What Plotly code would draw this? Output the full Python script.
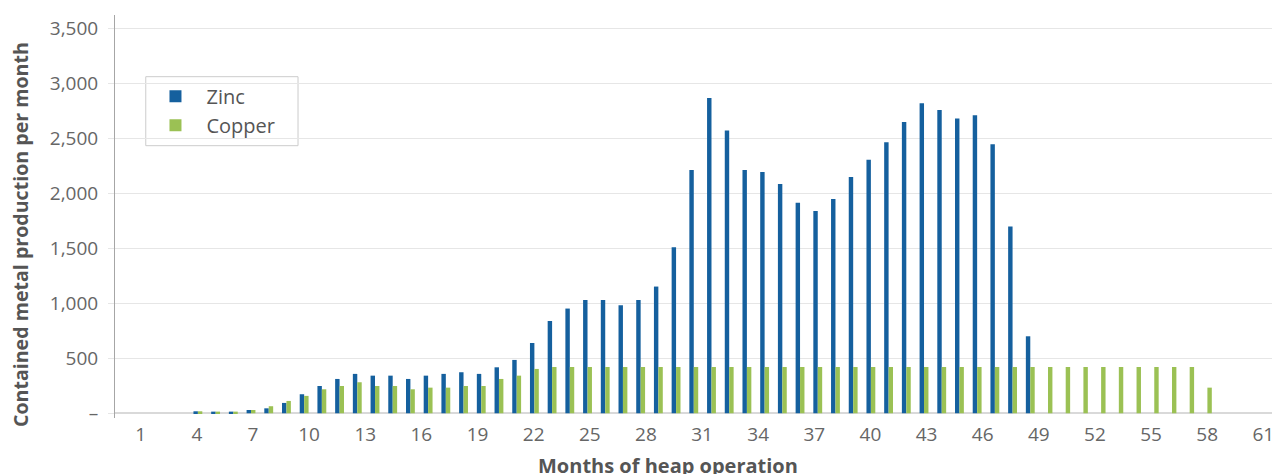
import plotly.graph_objects as go

# ---- data ----
months = list(range(1, 62))

zinc = [0, 0, 0, 18, 15, 15, 30, 45, 94, 173,
        248, 312, 358, 342, 342, 312, 342, 358, 373, 358,
        418, 485, 639, 839, 952, 1030, 1030, 982, 1030, 1152,
        1509, 2212, 2867, 2570, 2212, 2194, 2085, 1915, 1839, 1948,
        2148, 2306, 2464, 2648, 2818, 2758, 2679, 2709, 2445, 1697,
        700]

copper = [0, 0, 0, 18, 15, 15, 30, 64, 112, 158,
          218, 248, 282, 248, 248, 218, 233, 233, 248, 248,
          312, 342, 403, 421, 421, 421, 421, 421, 421, 421,
          421, 421, 421, 421, 421, 421, 421, 421, 421, 421,
          421, 421, 421, 421, 421, 421, 421, 421, 421, 421,
          421, 421, 421, 421, 421, 421, 421, 421, 421, 421,
          233]

x_tick_values = list(range(1, 62, 3))
x_tick_labels = [str(v) for v in x_tick_values]

y_tick_values = [0, 500, 1000, 1500, 2000, 2500, 3000, 3500]
y_tick_labels = ["–", "500", "1,000", "1,500", "2,000", "2,500", "3,000", "3,500"]

series_names = ["Zinc", "Copper"]
series_colors = ["#15609E", "#9BC154"]

FONT = "Open Sans"
TXT = "#666666"
TITLE = "#555555"

fig = go.Figure()
fig.add_trace(go.Bar(x=months[:len(zinc)], y=zinc, name=series_names[0],
                     marker=dict(color=series_colors[0], line=dict(width=0))))
fig.add_trace(go.Bar(x=months[:len(copper)], y=copper, name=series_names[1],
                     marker=dict(color=series_colors[1], line=dict(width=0))))
# helper (no visible marks) so the month-label axis is drawn
fig.add_trace(go.Scatter(x=x_tick_values, y=[None] * len(x_tick_values), xaxis="x2",
                         mode="markers", showlegend=False, hoverinfo="skip"))

fig.update_layout(
    width=1272, height=466,
    margin=dict(l=107, r=0, t=7, b=56, pad=0),
    paper_bgcolor="white", plot_bgcolor="white",
    barmode="group", bargap=0.5, bargroupgap=0,
    font=dict(family=FONT, color=TXT, size=19),
    showlegend=True,
    legend=dict(
        x=0.0253, y=0.847, xanchor="left", yanchor="top",
        bgcolor="rgba(0,0,0,0)", borderwidth=0,
        font=dict(family=FONT, size=20, color=TITLE),
        itemwidth=52, traceorder="normal",
    ),
    shapes=[
        # legend frame
        dict(type="rect", xref="paper", yref="paper",
             x0=0.0264, x1=0.1571, y0=0.6757, y1=0.8469,
             line=dict(color="#cccccc", width=1), fillcolor="white", layer="below"),
    ],
    xaxis=dict(
        range=[-0.68, 65.1], showticklabels=False, showgrid=False,
        zeroline=False, showline=False, ticks="",
    ),
    xaxis2=dict(
        overlaying="x", anchor="y", side="bottom",
        range=[-0.374, 61.89],
        tickmode="array", tickvals=x_tick_values, ticktext=x_tick_labels,
        showgrid=False, zeroline=False, showline=False, ticks="",
        tickfont=dict(family=FONT, size=19, color=TXT),
        ticklabelstandoff=3,
    ),
    yaxis=dict(
        range=[-43, 3621],
        tickmode="array", tickvals=y_tick_values, ticktext=y_tick_labels,
        showgrid=True, gridcolor="#e6e6e6", gridwidth=1,
        zeroline=True, zerolinecolor="#d9d9d9", zerolinewidth=2,
        showline=True, linecolor="#a6a6a6", linewidth=1,
        ticks="outside", ticklen=6, tickcolor="#e6e6e6",
        tickfont=dict(family=FONT, size=19, color=TXT),
        ticklabelstandoff=6,
    ),
    annotations=[
        dict(text="<b>Months of heap operation</b>", xref="paper", yref="paper",
             x=0.4747, y=-0.117, xanchor="center", yanchor="middle",
             showarrow=False, font=dict(family=FONT, size=20, color=TITLE)),
        dict(text="<b>Contained metal production per month</b>", xref="paper", yref="paper",
             x=-0.0815, y=0.454, xanchor="center", yanchor="middle", textangle=-90,
             showarrow=False, font=dict(family=FONT, size=19.6, color=TITLE)),
    ],
)

fig.write_html("out.html")
